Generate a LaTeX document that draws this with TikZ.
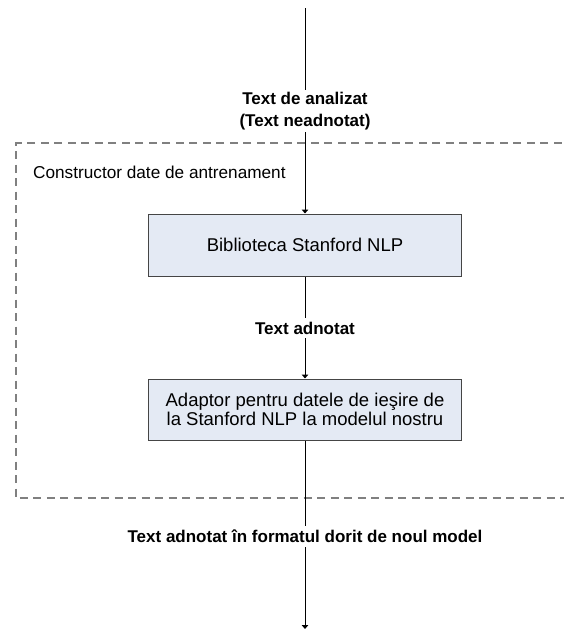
\documentclass[tikz,border=0pt]{standalone}
\usepackage{fontspec}
\setmainfont{Liberation Sans}
\usetikzlibrary{arrows.meta}
\definecolor{boxfill}{HTML}{E4EAF4}
\definecolor{boxline}{HTML}{454545}
\definecolor{dashcol}{HTML}{808080}
\tikzset{
  procbox/.style={draw=boxline, line width=1pt, fill=boxfill, minimum width=313pt, align=center, font=\fontsize{18.5}{18.5}\selectfont, inner sep=0pt},
  flowlabel/.style={font=\bfseries\fontsize{17}{22}\selectfont, align=center, inner sep=0pt},
  flow/.style={line width=1pt, black},
  tipflow/.style={flow, -{Triangle[length=4pt,width=6.5pt]}},
  boundary/.style={draw=dashcol, line width=1.3pt, dash pattern=on 8pt off 5.5pt}
}
\begin{document}
\begin{tikzpicture}[x=1pt,y=-1pt]
\useasboundingbox (0,0) rectangle (564,630);
\clip (0,0) rectangle (564,630);
\draw[boundary] (575,143) -- (16,143) -- (16,498) -- (575,498);
\node[anchor=west, font=\fontsize{17.2}{20}\selectfont, inner sep=0pt] (title) at (33,172) {Constructor date de antrenament};
\coordinate (top) at (305,8);
\coordinate (bottom) at (305,629);
\node[flowlabel, minimum height=42pt] (l1) at (305,111) {Text de analizat\\(Text neadnotat)};
\node[procbox, minimum height=62pt] (b1) at (305,245) {Biblioteca Stanford NLP};
\node[flowlabel, minimum height=20pt] (l2) at (305,328) {Text adnotat};
\node[procbox, minimum height=61pt] (b2) at (305,409.5) {Adaptor pentru datele de ie\c{s}ire de\\la Stanford NLP la modelul nostru};
\node[flowlabel, minimum height=21pt] (l3) at (305,536.5) {Text adnotat \^{\i}n formatul dorit de noul model};
\draw[flow] (top) -- (l1.north);
\draw[tipflow] (l1.south) -- (b1.north);
\draw[flow] (b1.south) -- (l2.north);
\draw[tipflow] (l2.south) -- (b2.north);
\draw[flow] (b2.south) -- (l3.north);
\draw[tipflow] (l3.south) -- (bottom);
\end{tikzpicture}
\end{document}
